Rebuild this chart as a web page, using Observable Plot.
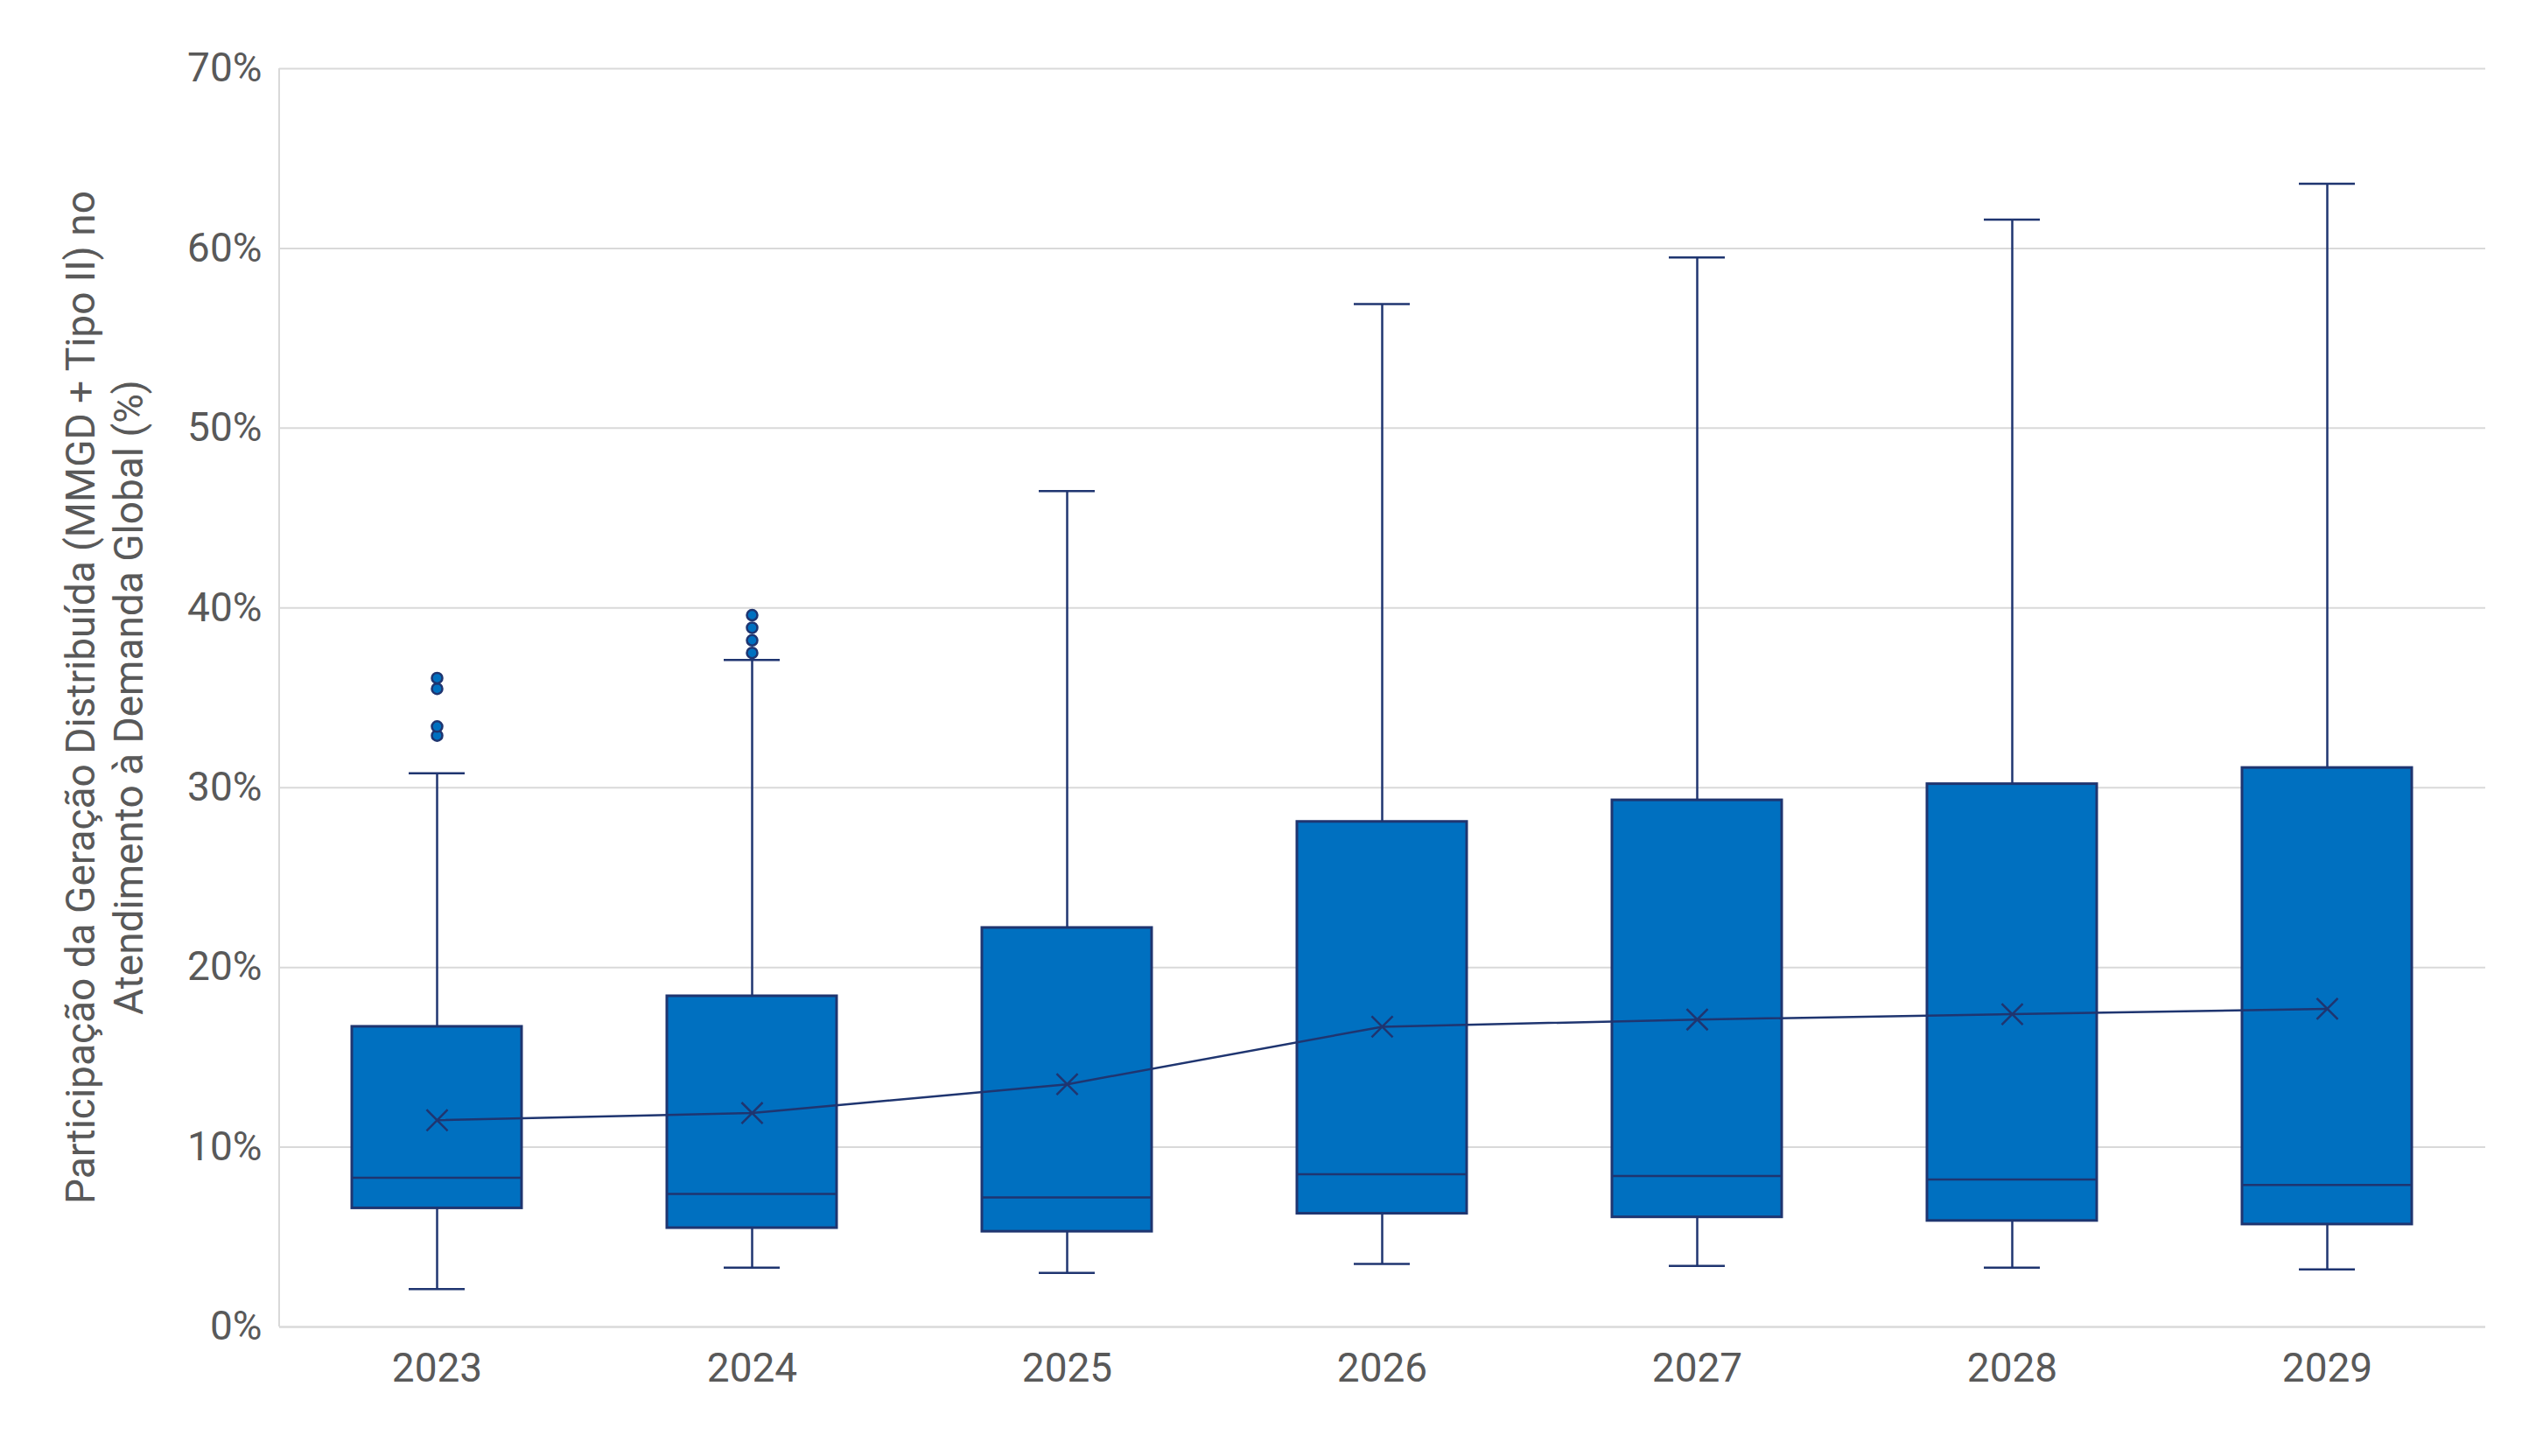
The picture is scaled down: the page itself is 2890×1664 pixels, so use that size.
<!DOCTYPE html>
<html><head><meta charset="utf-8">
<script src="https://cdn.jsdelivr.net/npm/d3@7"></script>
<script src="https://cdn.jsdelivr.net/npm/@observablehq/plot@0.6"></script>
<style>body{margin:0;background:#fff}</style>
</head><body><div id="c"></div>
<script>
const years = ["2023","2024","2025","2026","2027","2028","2029"];
const low = [2.1,3.3,3.0,3.5,3.4,3.3,3.2];
const q1 = [6.6,5.5,5.3,6.3,6.1,5.9,5.7];
const med = [8.3,7.4,7.2,8.5,8.4,8.2,7.9];
const q3 = [16.7,18.4,22.2,28.1,29.3,30.2,31.1];
const high = [30.8,37.1,46.5,56.9,59.5,61.6,63.6];
const mean = [11.5,11.9,13.5,16.7,17.1,17.4,17.7];
const outYears = ["2023","2023","2023","2023","2024","2024","2024","2024"];
const outVals = [32.9,33.4,35.5,36.1,37.5,38.2,38.9,39.6];
const yTicks = [0,10,20,30,40,50,60,70];

const data = years.map((y,i)=>({y, low:low[i], q1:q1[i], med:med[i], q3:q3[i], high:high[i], mean:mean[i]}));
const outs = outYears.map((y,i)=>({y, v:outVals[i]}));
const navy = "#1F3570", blue = "#0070C0";
const font = "'Liberation Sans Narrow','Roboto',sans-serif";

const chart = Plot.plot({
  width: 2890, height: 1664,
  marginLeft: 319, marginRight: 50, marginTop: 78, marginBottom: 148,
  style: {fontFamily: font, fontSize: "46px", color: "#595959", background: "#fff"},
  x: {domain: years, paddingInner: 0.46, paddingOuter: 0.23, label: null},
  y: {domain: [0,70], label: null},
  marks: [
    Plot.gridY(yTicks, {stroke: "#d9d9d9", strokeOpacity: 1, strokeWidth: 2}),
    Plot.axisX({tickSize: 0, tickPadding: 30, fontSize: 46}),
    Plot.axisY({ticks: yTicks, tickFormat: d => d + "%", tickSize: 0, tickPadding: 20, fontSize: 46}),
    Plot.ruleX(data, {x: "y", y1: "low", y2: "high", stroke: navy, strokeWidth: 2.5}),
    Plot.tickY(data, {x: "y", y: "low", stroke: navy, strokeWidth: 2.5, insetLeft: 65, insetRight: 65}),
    Plot.tickY(data, {x: "y", y: "high", stroke: navy, strokeWidth: 2.5, insetLeft: 65, insetRight: 65}),
    Plot.barY(data, {x: "y", y1: "q1", y2: "q3", fill: blue, stroke: navy, strokeWidth: 3}),
    Plot.tickY(data, {x: "y", y: "med", stroke: navy, strokeWidth: 2.5}),
    Plot.line(data, {x: "y", y: "mean", stroke: navy, strokeWidth: 2.5}),
    Plot.dot(data, {x: "y", y: "mean", symbol: "times", r: 11, stroke: navy, strokeWidth: 2.5}),
    Plot.dot(outs, {x: "y", y: "v", r: 6, fill: blue, stroke: navy, strokeWidth: 2.5}),
    Plot.ruleY([0], {stroke: "#d9d9d9", strokeWidth: 2})
  ]
});
document.getElementById("c").appendChild(chart);
const svg = d3.select(chart);
svg.append("line").attr("x1",319).attr("x2",319).attr("y1",78).attr("y2",1516).attr("stroke","#d9d9d9").attr("stroke-width",2);
const lbl = svg.append("text").attr("transform","translate(108,797) rotate(-90)")
  .attr("text-anchor","middle").attr("fill","#595959").style("font-family",font).style("font-size","46px");
lbl.append("tspan").attr("x",0).attr("dy",0).text("Participação da Geração Distribuída (MMGD + Tipo II) no");
lbl.append("tspan").attr("x",0).attr("dy","1.2em").text("Atendimento à Demanda Global (%)");
</script></body></html>
